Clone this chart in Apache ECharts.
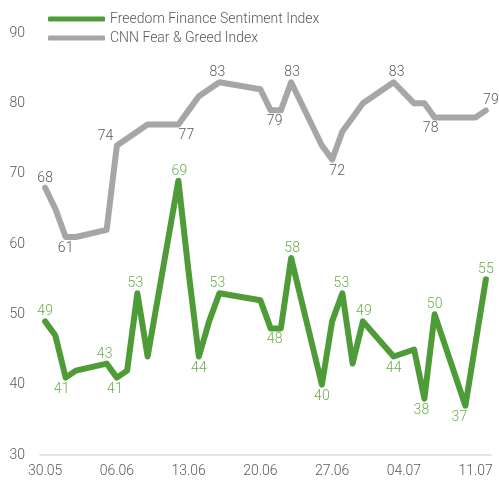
<!DOCTYPE html>
<html>
<head>
<meta charset="utf-8">
<script src="https://cdn.jsdelivr.net/npm/echarts@6/dist/echarts.min.js"></script>
<style>
html,body{margin:0;padding:0;background:#fff;}
#main{width:499px;height:486px;}
</style>
</head>
<body>
<div id="main"></div>
<script>
// 日期 30.05 - 12.07
var days=["30.05","31.05","01.06","02.06","03.06","04.06","05.06","06.06","07.06","08.06","09.06",
    "10.06","11.06","12.06","13.06","14.06","15.06","16.06","17.06","18.06","19.06","20.06",
    "21.06","22.06","23.06","24.06","25.06","26.06","27.06","28.06","29.06","30.06","01.07",
    "02.07","03.07","04.07","05.07","06.07","07.07","08.07","09.07","10.07","11.07","12.07"];
// null = 非交易日
var freedom=[49,47,41,42,null,null,43,41,42,53,44,null,null,69,56,44,49,53,null,null,null,
    52,48,48,58,null,null,40,49,53,43,49,null,null,44,null,45,38,50,null,null,37,46,55];
var cnn=[68,65,61,61,null,null,62,74,75,76,77,null,null,77,79,81,82,83,null,null,null,
    82,79,79,83,null,null,74,72,76,78,80,null,null,83,null,80,80,78,null,null,78,78,79];
var yTicks=[30,40,50,60,70,80,90];

// 标注的点  [位置, x偏移]
var freedomLabels={0:["top",0],2:["bottom",-4],6:["top",-2],7:["bottom",-2],9:["top",-2],13:["top",1],
    15:["bottom",0],17:["top",-2],22:["bottom",4],24:["top",1],27:["bottom",0],29:["top",-1],
    31:["top",1],34:["bottom",0],37:["bottom",-3],38:["top",0],41:["bottom",-6],43:["top",0]};
var cnnLabels={0:["top",0],2:["bottom",0],7:["left",-1],13:["bottom",8],17:["top",-2],22:["bottom",4],
    24:["top",1],28:["bottom",5],34:["top",3],38:["bottom",-4],43:["top",5]};

var font="Roboto";
function build(arr,labels,color){
    return arr.map(function(v,i){
        var l=labels[i];
        if(v==null||!l){return v;}
        var off=l[0]=="left"?[l[1],-9]:[l[1],0];
        return {value:v,label:{show:true,position:l[0],offset:off,distance:l[0]=="bottom"?4:2,
            color:color,fontFamily:font,fontWeight:300,fontSize:14}};
    });
}

var myChart=echarts.init(document.getElementById("main"));
var option={
    animation:false,
    backgroundColor:"#fff",
    legend:{
        orient:"vertical",left:43,top:7,itemGap:5,
        itemWidth:57,itemHeight:5,icon:"roundRect",
        textStyle:{color:"#595959",fontFamily:font,fontWeight:300,fontSize:14},
        data:["Freedom Finance Sentiment Index","CNN Fear & Greed Index"]
    },
    grid:{left:40,right:8,top:33,bottom:31},
    xAxis:{
        type:"category",data:days,boundaryGap:true,
        axisLine:{lineStyle:{color:"#d9d9d9",width:1.5}},
        axisTick:{interval:6,length:5,lineStyle:{color:"#d9d9d9",width:1.5}},
        axisLabel:{interval:6,margin:9,color:"#595959",fontFamily:font,fontWeight:300,fontSize:14}
    },
    yAxis:{
        type:"value",min:yTicks[0],max:yTicks[yTicks.length-1],interval:10,
        axisLine:{show:false},axisTick:{show:false},splitLine:{show:false},
        axisLabel:{margin:15,color:"#595959",fontFamily:font,fontWeight:300,fontSize:14}
    },
    series:[{
        name:"Freedom Finance Sentiment Index",type:"line",
        data:build(freedom,freedomLabels,"#6aad4c"),
        connectNulls:true,symbol:"circle",symbolSize:1,
        itemStyle:{color:"#4e9c38"},
        lineStyle:{color:"#4e9c38",width:6,cap:"round",join:"round"},
        z:3
    },{
        name:"CNN Fear & Greed Index",type:"line",
        data:build(cnn,cnnLabels,"#595959"),
        connectNulls:true,symbol:"circle",symbolSize:1,
        itemStyle:{color:"#a6a6a6"},
        lineStyle:{color:"#a6a6a6",width:6,cap:"round",join:"round"},
        z:2
    }]
};
myChart.setOption(option);
</script>
</body>
</html>
